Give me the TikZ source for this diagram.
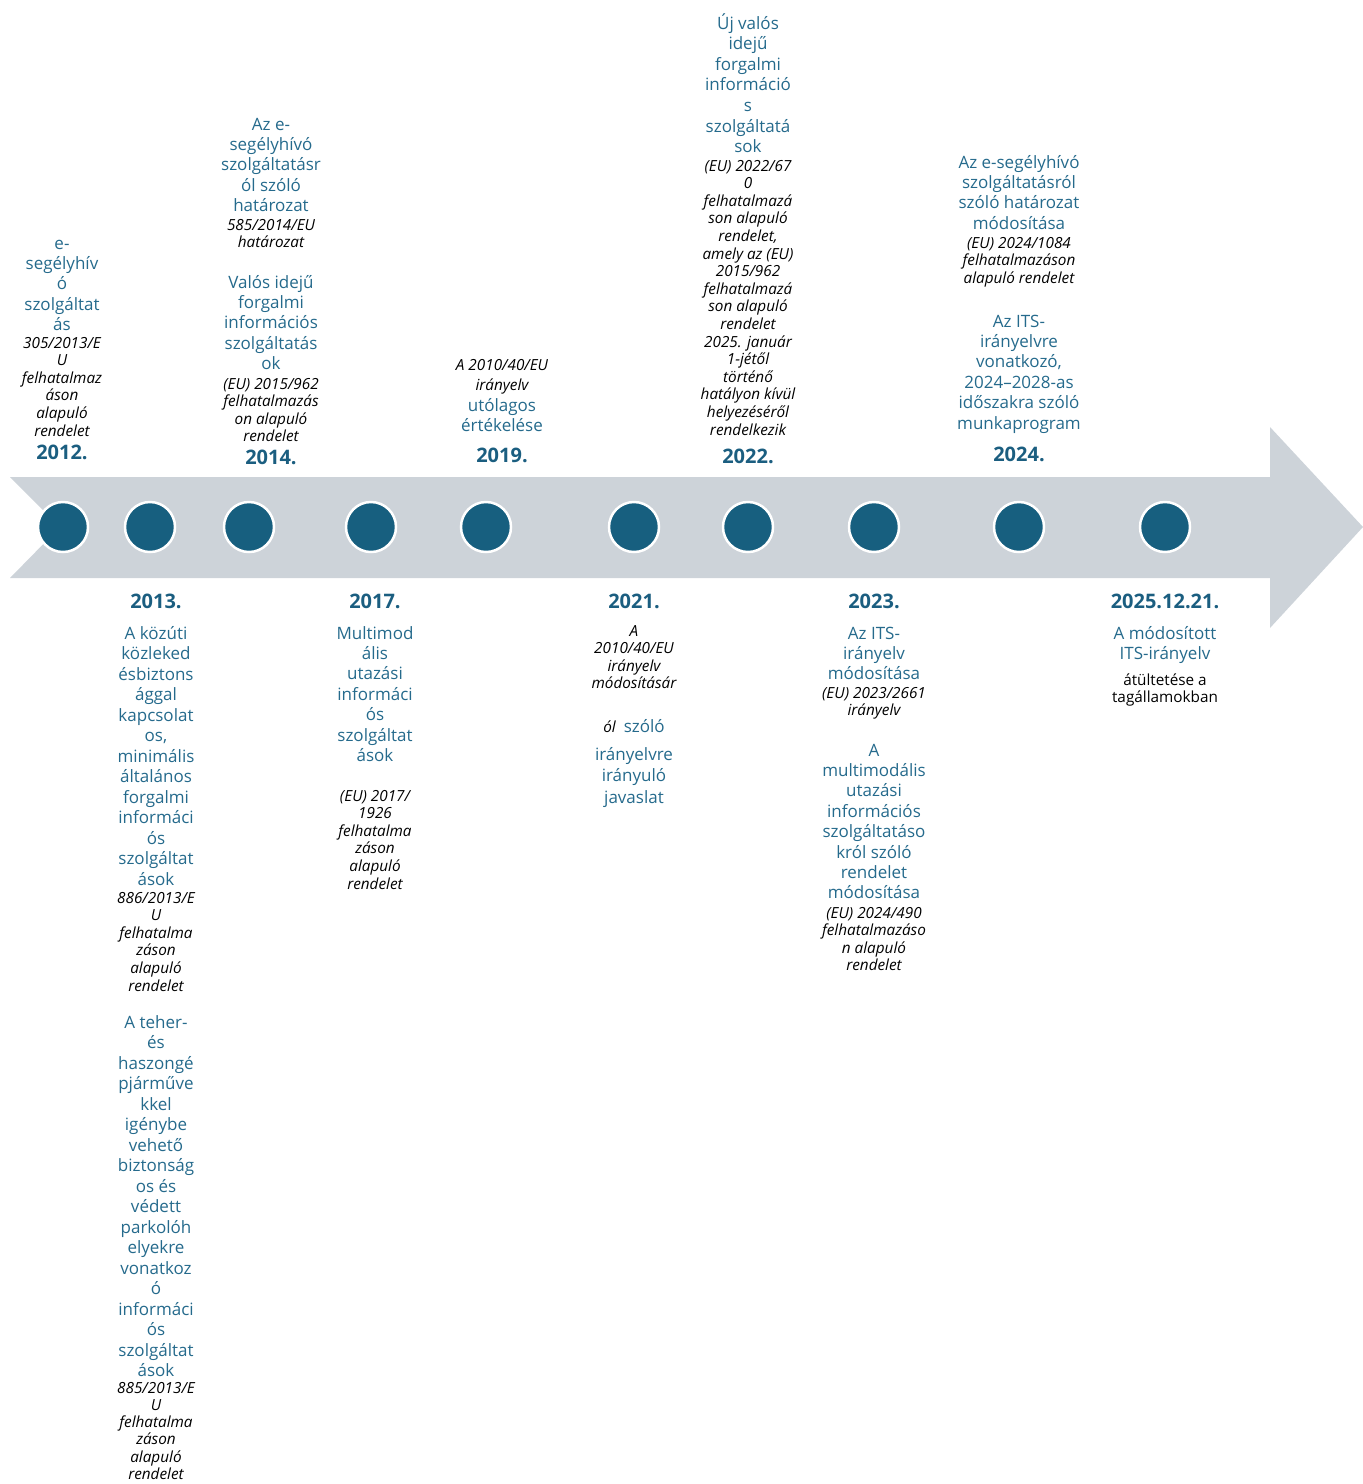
\documentclass[tikz,border=0pt]{standalone}
\usepackage{fontspec}
\setmainfont{Open Sans}
\definecolor{tblue}{HTML}{256A8C}
\definecolor{yblue}{HTML}{1B5E80}
\definecolor{circ}{HTML}{175F7F}
\definecolor{band}{HTML}{CDD3D9}
\tikzset{
  bluetxt/.style={anchor=base,inner sep=0,text=tblue,font=\fontsize{17}{20}\selectfont},
  itxt/.style={anchor=base,inner sep=0,text=black,font=\fontsize{15.3}{18}\selectfont\itshape},
  ptxt/.style={anchor=base,inner sep=0,text=black,font=\fontsize{15.3}{18}\selectfont},
  yeartxt/.style={anchor=base,inner sep=0,text=yblue,font=\fontsize{20}{24}\selectfont\bfseries},
  dot/.style={circle,fill=circ,draw=white,line width=2.5pt,minimum size=50,inner sep=0}
}
% #1 name prefix, #2 style, #3 x, #4 first baseline, #5 step, #6 lines
\newcommand\txtlines[6]{%
  \foreach \t [count=\i from 0] in {#6}{\node[#2] (#1\i) at (#3,{#4+\i*#5}) {\t};}}
\begin{document}
\begin{tikzpicture}[x=1pt,y=-1pt]
\useasboundingbox (0,0) rectangle (1363,1484);
% band arrow
\fill[band] (10,477) -- (1270,477) -- (1270,427) -- (1363,527) -- (1270,628) -- (1270,578) -- (10,578) -- (60,527) -- cycle;
% dots
\foreach \x [count=\k] in {63,150,249,371,486,634,748,874,1019,1165}
  \node[dot] (d\k) at (\x,527) {};
% 2012
\txtlines{a}{bluetxt}{62}{249}{20.4}{e-,segélyhív,ó,szolgáltat,ás}
\txtlines{ai}{itxt}{62}{348}{17.6}{305/2013/E,U,felhatalmaz,áson,alapuló,rendelet}
\node[yeartxt] (y2012) at (62,459) {2012.};
% 2014
\txtlines{b}{bluetxt}{271}{130}{20.4}{Az e-,segélyhívó,szolgáltatásr,ól szóló,határozat}
\txtlines{bi}{itxt}{271}{230}{17.6}{585/2014/EU,határozat}
\txtlines{bb}{bluetxt}{271}{288}{20.4}{Valós idejű,forgalmi,információs,szolgáltatás,ok}
\txtlines{bbi}{itxt}{271}{389}{17.6}{(EU) 2015/962,felhatalmazás,on alapuló,rendelet}
\node[yeartxt] (y2014) at (271,464) {2014.};
% 2019
\txtlines{c}{itxt}{502}{370}{20}{A 2010/40/EU,irányelv}
\txtlines{cb}{bluetxt}{502}{411}{20}{utólagos,értékelése}
\node[yeartxt] (y2019) at (502,462) {2019.};
% 2022
\txtlines{d}{bluetxt}{748}{29}{20.6}{Új valós,idejű,forgalmi,információ,s,szolgáltatá,sok}
\txtlines{di}{itxt}{748}{171}{17.6}{(EU) 2022/67,0,felhatalmazá,son alapuló,{rendelet,},amely az (EU),2015/962,felhatalmazá,son alapuló,rendelet,2025. január,1-jétől,történő,hatályon kívül,helyezéséről,rendelkezik}
\node[yeartxt] (y2022) at (748,463) {2022.};
% 2024
\txtlines{e}{bluetxt}{1019}{168}{20.4}{Az e-segélyhívó,szolgáltatásról,szóló határozat,módosítása}
\txtlines{ei}{itxt}{1019}{248}{17.6}{(EU) 2024/1084,felhatalmazáson,alapuló rendelet}
\txtlines{eb}{bluetxt}{1019}{327}{20.4}{Az ITS-,irányelvre,{vonatkozó,},2024–2028-as,időszakra szóló,munkaprogram}
\node[yeartxt] (y2024) at (1019,461) {2024.};
% 2013
\node[yeartxt] (y2013) at (156,608) {2013.};
\txtlines{f}{bluetxt}{156}{639}{20.5}{A közúti,közleked,ésbiztons,ággal,kapcsolat,{os,},minimális,általános,forgalmi,informáci,ós,szolgáltat,ások}
\txtlines{fi}{itxt}{156}{903}{17.6}{886/2013/E,U,felhatalma,záson,alapuló,rendelet}
\txtlines{fb}{bluetxt}{156}{1028}{20.5}{A teher-,és,haszongé,pjárműve,kkel,igénybe,vehető,biztonság,os és,védett,parkolóh,elyekre,vonatkoz,ó,informáci,ós,szolgáltat,ások}
\txtlines{fbi}{itxt}{156}{1393}{17.3}{885/2013/E,U,felhatalma,záson,alapuló,rendelet}
% 2017
\node[yeartxt] (y2017) at (375,608) {2017.};
\txtlines{g}{bluetxt}{375}{639}{20.4}{Multimod,ális,utazási,informáci,ós,szolgáltat,ások}
\txtlines{gi}{itxt}{375}{801}{17.6}{(EU) 2017/,1926,felhatalma,záson,alapuló,rendelet}
% 2021
\node[yeartxt] (y2021) at (634,608) {2021.};
\txtlines{h}{itxt}{634}{636}{17.6}{A,2010/40/EU,irányelv,módosításár}
\node[bluetxt] (hmix) at (634,732) {{\color{black}\fontsize{15.3}{18}\selectfont\itshape ól}\hspace{8pt}szóló};
\txtlines{hb}{bluetxt}{634}{760}{21.5}{irányelvre,irányuló,javaslat}
% 2023
\node[yeartxt] (y2023) at (874,608) {2023.};
\txtlines{k}{bluetxt}{874}{639}{20.4}{Az ITS-,irányelv,módosítása}
\txtlines{ki}{itxt}{874}{698}{17.4}{(EU) 2023/2661,irányelv}
\txtlines{kb}{bluetxt}{874}{756}{20.4}{A,multimodális,utazási,információs,szolgáltatáso,król szóló,rendelet,módosítása}
\txtlines{kbi}{itxt}{874}{918}{17.6}{(EU) 2024/490,felhatalmazáso,n alapuló,rendelet}
% 2025
\node[yeartxt] (y2025) at (1165,608) {2025.12.21.};
\txtlines{m}{bluetxt}{1165}{639}{20.4}{A módosított,ITS-irányelv}
\txtlines{mp}{ptxt}{1165}{685}{17.5}{átültetése a,tagállamokban}
\end{tikzpicture}
\end{document}
